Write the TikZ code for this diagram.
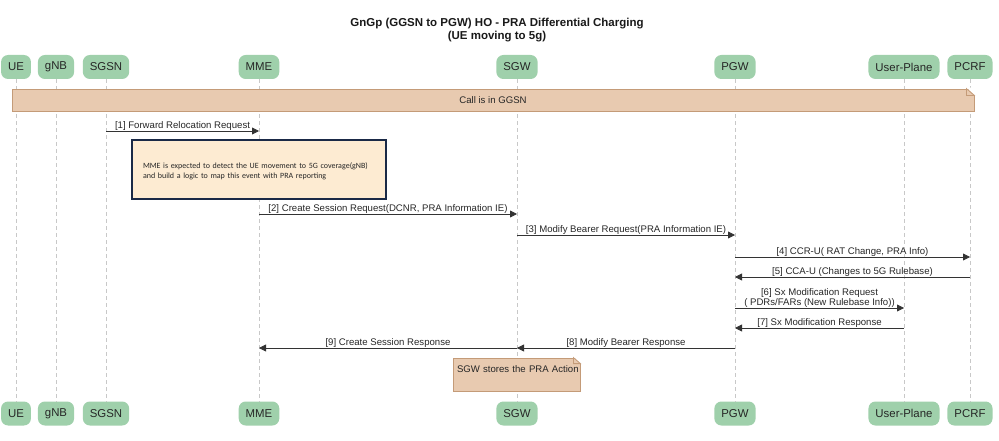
\documentclass[tikz,border=0pt]{standalone}
\usepackage{fontspec}
\setmainfont{Liberation Sans}
\newfontfamily\notefont{Carlito}
\usepackage{xcolor}
\usepackage{tikz}
\usetikzlibrary{positioning, arrows.meta}
\definecolor{ActorGreen}{HTML}{9FD0AB}
\definecolor{NoteTan}{HTML}{E8CAB0}
\definecolor{NoteEdge}{HTML}{C49B78}
\definecolor{HintCream}{HTML}{FDEBD2}
\definecolor{HintNavy}{HTML}{1A2946}
\definecolor{LifeGray}{HTML}{C8C8C8}
\definecolor{MsgGray}{HTML}{333333}

\begin{document}
\begin{tikzpicture}[
            x=1pt, y=-1pt,
            actor/.style={fill=ActorGreen, rounded corners=7pt, text=black!85, minimum height=24pt, inner xsep=7pt, font=\fontsize{11.4}{13}\selectfont},
            life/.style={LifeGray, dash pattern=on 4pt off 3pt, line width=0.7pt},
            arrow/.style={-{Triangle[length=7pt, width=7pt]}, MsgGray, line width=0.8pt},
            lbl/.style={text=black!85, font=\fontsize{9.6}{10.5}\selectfont, align=center, inner sep=0pt},
            tannote/.style={fill=NoteTan, draw=NoteEdge, line width=0.8pt, text=black!85, font=\fontsize{9.6}{11}\selectfont},
            hint/.style={fill=HintCream, draw=HintNavy, line width=1.6pt, text width=232pt, align=left, inner xsep=11pt, minimum height=59pt, text depth=7pt, text=black!85, font=\notefont\fontsize{8}{10}\selectfont}
        ]
            \useasboundingbox (0,0) rectangle (999,441);

            \node[font=\bfseries\fontsize{11.5}{13}\selectfont, align=center, text=black!90] (title) at (497,30) {GnGp (GGSN to PGW) HO - PRA Differential Charging\\(UE moving to 5g)};

            % actors, top row
            \node[actor] (ue) at (16,67) {UE};
            \node[actor] (gnb) at (56,67) {gNB};
            \node[actor] (sgsn) at (106,67) {SGSN};
            \node[actor] (mme) at (259,67) {MME};
            \node[actor] (sgw) at (517,67) {SGW};
            \node[actor] (pgw) at (735,67) {PGW};
            \node[actor] (up) at (904,67) {User-Plane};
            \node[actor] (pcrf) at (970,67) {PCRF};

            % actors, bottom row
            \node[actor] (ue-b) at (16,413.5) {UE};
            \node[actor] (gnb-b) at (56,413.5) {gNB};
            \node[actor] (sgsn-b) at (106,413.5) {SGSN};
            \node[actor] (mme-b) at (259,413.5) {MME};
            \node[actor] (sgw-b) at (517,413.5) {SGW};
            \node[actor] (pgw-b) at (735,413.5) {PGW};
            \node[actor] (up-b) at (904,413.5) {User-Plane};
            \node[actor] (pcrf-b) at (970,413.5) {PCRF};

            % lifelines
            \draw[life] (ue) -- (ue-b);
            \draw[life] (gnb) -- (gnb-b);
            \draw[life] (sgsn) -- (sgsn-b);
            \draw[life] (mme) -- (mme-b);
            \draw[life] (sgw) -- (sgw-b);
            \draw[life] (pgw) -- (pgw-b);
            \draw[life] (up) -- (up-b);
            \draw[life] (pcrf) -- (pcrf-b);

            % call banner
            \node[tannote, minimum width=962pt, minimum height=22pt] (call) at (493,100) {Call is in GGSN};
            \fill[white] ([xshift=-8pt, yshift=1pt]call.north east) -- ([xshift=1pt, yshift=1pt]call.north east) -- ([xshift=1pt, yshift=-7pt]call.north east) -- cycle;
            \draw[tannote] ([xshift=-8pt]call.north east) -- ([xshift=-8pt, yshift=-7pt]call.north east) -- ([yshift=-7pt]call.north east) -- cycle;

            \draw[arrow] (sgsn |- 0,131) -- (mme |- 0,131) node[midway, above, lbl] {[1] Forward Relocation Request};

            \node[hint] (detect) at (259,169.5) {\mbox{MME is expected to detect the UE movement to 5G coverage(gNB)}\\and build a logic to map this event with PRA reporting};

            \draw[arrow] (mme |- 0,214) -- (sgw |- 0,214) node[midway, above, lbl] {[2] Create Session Request(DCNR, PRA Information IE)};
            \draw[arrow] (sgw |- 0,235) -- (pgw |- 0,235) node[midway, above, lbl] {[3] Modify Bearer Request(PRA Information IE)};
            \draw[arrow] (pgw |- 0,257) -- (pcrf |- 0,257) node[midway, above, lbl] {[4] CCR-U( RAT Change, PRA Info)};
            \draw[arrow] (pcrf |- 0,277) -- (pgw |- 0,277) node[midway, above, lbl] {[5] CCA-U (Changes to 5G Rulebase)};
            \draw[arrow] (pgw |- 0,308) -- (up |- 0,308) node[midway, above, lbl] {[6] Sx Modification Request\\( PDRs/FARs (New Rulebase Info))};
            \draw[arrow] (up |- 0,328) -- (pgw |- 0,328) node[midway, above, lbl] {[7] Sx Modification Response};
            \draw[arrow] (pgw |- 0,348) -- (sgw |- 0,348) node[midway, above, lbl] {[8] Modify Bearer Response};
            \draw[arrow] (sgw |- 0,348) -- (mme |- 0,348) node[midway, above, lbl] {[9] Create Session Response};

            % sgw note
            \node[tannote, minimum width=127pt, text width=119pt, align=left, inner xsep=4pt, inner ysep=4.5pt, text height=10pt, text depth=14pt] (stores) at (516.5,374.5) {\mbox{SGW stores the PRA Action}};
            \fill[white] ([xshift=-7pt, yshift=1pt]stores.north east) -- ([xshift=1pt, yshift=1pt]stores.north east) -- ([xshift=1pt, yshift=-7pt]stores.north east) -- cycle;
            \draw[tannote] ([xshift=-7pt]stores.north east) -- ([xshift=-7pt, yshift=-6pt]stores.north east) -- ([yshift=-6pt]stores.north east) -- cycle;

        \end{tikzpicture}
\end{document}
